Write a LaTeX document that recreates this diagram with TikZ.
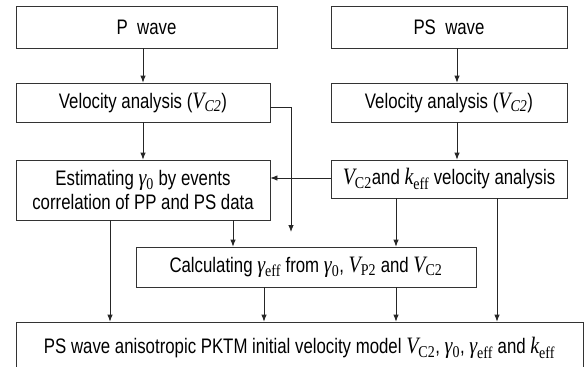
\documentclass[tikz,border=0pt]{standalone}
\usepackage{fontspec}
\setmainfont{Liberation Sans}[FakeStretch=0.8]
\newfontfamily\sr{Liberation Serif}[FakeStretch=0.85,Scale=1.12]
\usetikzlibrary{arrows.meta}
\newcommand\Vs[1]{{\sr\itshape V}\textsubscript{\sr #1}}
\newcommand\Gs[1]{{\sr\itshape γ}\textsubscript{\sr #1}}
\newcommand\Ks[1]{{\sr\itshape k}\textsubscript{\sr #1}}
\begin{document}
\begin{tikzpicture}[x=1pt,y=-1pt,
  bx/.style={draw=black!80,line width=0.8pt,inner sep=0pt,align=center,font=\fontsize{21}{24}\selectfont},
  arr/.style={draw=black!85,line width=0.8pt,-{Latex[length=7pt,width=5.5pt]}},
  ln/.style={draw=black!85,line width=0.8pt}]
\useasboundingbox (0,0) rectangle (587,367);
\node[bx,minimum width=261pt,minimum height=42pt] (pw) at (146.5,27) {P\ \ wave};
\node[bx,minimum width=254pt,minimum height=39pt] (v1) at (143,102.5) {Velocity analysis ({\sr\itshape V}\textsubscript{\sr\itshape C2})};
\node[bx,minimum width=254pt,minimum height=60pt] (est) at (143,190) {Estimating \Gs{0} by events\\correlation of PP and PS data};
\node[bx,minimum width=236pt,minimum height=42pt] (psw) at (449,27) {PS\ \ wave};
\node[bx,minimum width=236pt,minimum height=39pt] (v2) at (449,102.5) {Velocity analysis ({\sr\itshape V}\textsubscript{\sr\itshape C2})};
\node[bx,minimum width=236pt,minimum height=38pt] (vk) at (449,179) {\Vs{C2}and \Ks{eff} velocity analysis};
\node[bx,minimum width=340pt,minimum height=40pt] (calc) at (306,267) {Calculating \Gs{eff} from \Gs{0}, \Vs{P2} and \Vs{C2}};
\node[bx,minimum width=567pt,minimum height=52pt] (fin) at (299.5,348) {\raisebox{5pt}{PS wave anisotropic PKTM initial velocity model \Vs{C2}, \Gs{0}, \Gs{eff} and \Ks{eff}}};
\coordinate (c1) at (291,107);
\coordinate (c2) at (291,232);
\draw[arr] (pw.south -| 143,0) -- (v1.north -| 143,0);
\draw[arr] (v1.south) -- (est.north);
\draw[ln] (v1.east |- c1) -- (c1);
\draw[arr] (c1) -- (c2);
\draw[arr] (psw.south -| 457,0) -- (v2.north -| 457,0);
\draw[arr] (v2.south -| 457,0) -- (vk.north -| 457,0);
\draw[arr] (vk.west |- 0,178) -- (est.east |- 0,178);
\draw[arr] (est.south -| 233,0) -- (calc.north -| 233,0);
\draw[arr] (vk.south -| 396,0) -- (calc.north -| 396,0);
\draw[arr] (est.south -| 110,0) -- (fin.north -| 110,0);
\draw[arr] (calc.south -| 264,0) -- (fin.north -| 264,0);
\draw[arr] (calc.south -| 396,0) -- (fin.north -| 396,0);
\draw[arr] (vk.south -| 497,0) -- (fin.north -| 497,0);
\end{tikzpicture}
\end{document}
